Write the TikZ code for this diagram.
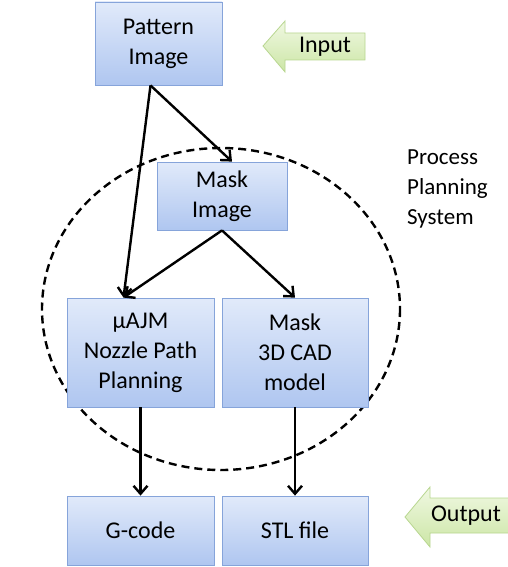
\documentclass[tikz,border=0pt]{standalone}
\usepackage{fontspec}
\setmainfont{Carlito}
\usetikzlibrary{arrows.meta}
\begin{document}
\begin{tikzpicture}[x=1pt,y=-1pt,
  box/.style={draw=boxedge,line width=0.8pt,top color=boxtop,bottom color=boxbot,
    align=center,inner sep=0pt,font=\fontsize{24}{30}\selectfont},
  flow/.style={line width=2.4pt,-{Straight Barb[length=8pt,width=14pt]}},
  tag/.style={draw=tagedge,line width=0.8pt,top color=tagtop,bottom color=tagbot},
  tagtext/.style={font=\fontsize{24}{30}\selectfont,inner sep=0pt}]
\definecolor{boxtop}{HTML}{E1EAFA}
\definecolor{boxbot}{HTML}{AFC6F0}
\definecolor{boxedge}{HTML}{86A4DA}
\definecolor{tagtop}{HTML}{F0F8E2}
\definecolor{tagbot}{HTML}{CCE6A6}
\definecolor{tagedge}{HTML}{B8D690}
\useasboundingbox (0,0) rectangle (507,567);

% dashed boundary of the planning system
\draw[line width=2.4pt,dash pattern=on 8pt off 5pt] (221,309) ellipse [x radius=179, y radius=161];
\node[font=\fontsize{23}{30}\selectfont,align=left,anchor=north west,inner sep=0pt] (sys) at (407,150) {Process\\Planning\\System};

% process boxes
\node[box,minimum width=127pt,minimum height=83pt] (pat) at (158.5,43.5) {Pattern\\Image};
\node[box,minimum width=130pt,minimum height=68pt] (mask) at (222,196) {Mask\\Image};
\node[box,minimum width=147pt,minimum height=109pt] (ajm) at (140.5,352.5) {µAJM\\Nozzle Path\\Planning};
\node[box,minimum width=146pt,minimum height=109pt] (cad) at (295,352.5) {Mask\\3D CAD\\model};
\node[box,minimum width=147pt,minimum height=69pt] (gc) at (140.5,530.5) {G-code};
\node[box,minimum width=146pt,minimum height=69pt] (stl) at (295,530.5) {STL file};

% connectors
\coordinate (patout) at ([xshift=-8pt]pat.south);
\draw[flow] (patout) -- ([xshift=-17pt]ajm.north);
\draw[flow] (patout) -- ([xshift=10pt]mask.north);
\draw[flow] (mask.south) -- ([xshift=-17pt]ajm.north);
\draw[flow] (mask.south) -- (cad.north);
\draw[flow] (ajm.south) -- (gc.north);
\draw[flow] (cad.south) -- (stl.north);

% input / output markers
\path[tag] (263,46) -- (285,21) -- (285,33) -- (365,33) -- (365,60) -- (285,60) -- (285,72) -- cycle;
\node[tagtext] (in) at (325,46.5) {Input};
\path[tag] (405,517) -- (430,487) -- (430,498) -- (510,498) -- (510,533) -- (430,533) -- (430,547) -- cycle;
\node[tagtext] (out) at (466,515.5) {Output};
\end{tikzpicture}
\end{document}
